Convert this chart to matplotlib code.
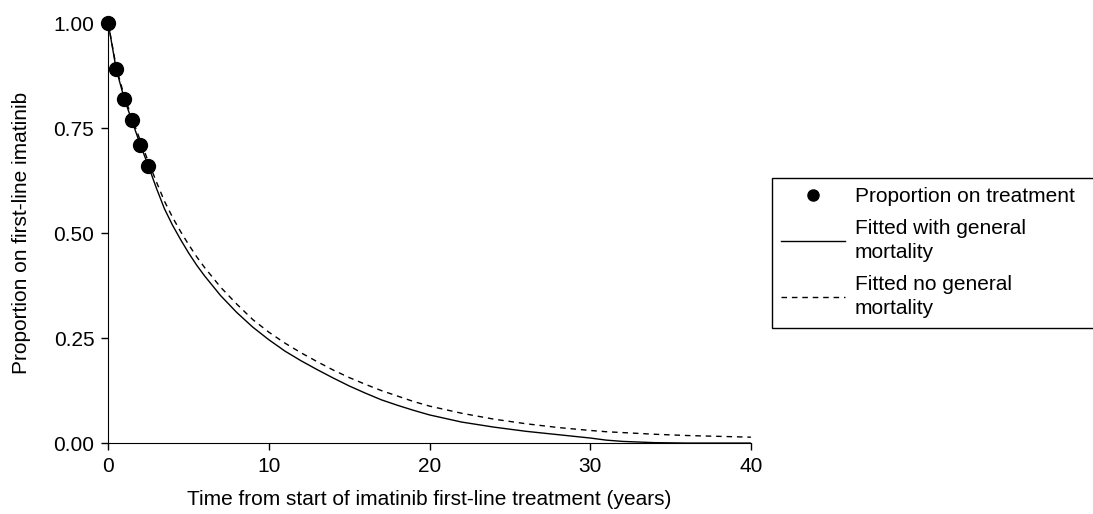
import matplotlib
matplotlib.use("Agg")
import matplotlib.pyplot as plt

# observed proportion on first-line treatment
obs_years = [0, 0.5, 1.0, 1.5, 2.0, 2.5]
obs_prop = [1.0, 0.89, 0.82, 0.77, 0.71, 0.66]

# fitted curves
fit_years = [0, 0.5, 1, 1.5, 2, 2.5, 3, 3.5, 4, 4.5, 5, 5.5, 6, 7, 8, 9, 10, 11, 12,
             13, 14, 15, 16, 17, 18, 19, 20, 22, 24, 26, 28, 30, 31, 32, 34, 36, 40]
fit_gen_mort = [1.0, 0.89, 0.82, 0.765, 0.71, 0.66, 0.607, 0.558, 0.519, 0.485, 0.453,
                0.424, 0.398, 0.351, 0.311, 0.276, 0.246, 0.219, 0.196, 0.175, 0.155,
                0.136, 0.119, 0.103, 0.09, 0.078, 0.067, 0.05, 0.038, 0.028, 0.02,
                0.012, 0.007, 0.004, 0.001, 0.0, 0.0]
fit_no_mort = [1.0, 0.895, 0.826, 0.772, 0.72, 0.67, 0.622, 0.576, 0.538, 0.504, 0.473,
               0.444, 0.418, 0.371, 0.331, 0.294, 0.264, 0.238, 0.215, 0.194, 0.174,
               0.156, 0.14, 0.125, 0.112, 0.099, 0.088, 0.071, 0.057, 0.046, 0.037,
               0.03, 0.027, 0.025, 0.021, 0.018, 0.014]

plt.rcParams["font.family"] = ["Liberation Sans", "DejaVu Sans"]
plt.rcParams["font.size"] = 15

fig = plt.figure(figsize=(10.93, 5.14), dpi=100)
ax = fig.add_axes([0.099, 0.138, 0.588, 0.817])

ax.plot(obs_years, obs_prop, "o", color="black", markersize=10, clip_on=False,
        label="Proportion on treatment", zorder=3)
ax.plot(fit_years, fit_gen_mort, "-", color="black", lw=1.0,
        label="Fitted with general\nmortality")
ax.plot(fit_years, fit_no_mort, "--", color="black", lw=1.0, dashes=(4, 3.5),
        label="Fitted no general\nmortality")

ax.set_xlim(0, 40)
ax.set_ylim(0, 1)
ax.set_xticks([0, 10, 20, 30, 40])
ax.set_yticks([0, 0.25, 0.5, 0.75, 1.0])
ax.set_yticklabels(["0.00", "0.25", "0.50", "0.75", "1.00"])
ax.spines["top"].set_visible(False)
ax.spines["right"].set_visible(False)
ax.tick_params(direction="out", length=5, width=1, pad=5)
ax.set_xlabel("Time from start of imatinib first-line treatment (years)", labelpad=10)
ax.set_ylabel("Proportion on first-line imatinib", labelpad=16)

leg = ax.legend(loc="upper left", bbox_to_anchor=(0.706, 0.357, 0.31, 0.297),
                bbox_transform=fig.transFigure, mode="expand", fancybox=False,
                framealpha=1, edgecolor="black", handlelength=3.05,
                handletextpad=0.5, labelspacing=0.6, borderpad=0.45,
                borderaxespad=0, markerscale=0.8)
leg.get_frame().set_linewidth(1.0)
for t in leg.get_texts():
    t.set_linespacing(1.37)

fig.savefig("out.png", dpi=100)
